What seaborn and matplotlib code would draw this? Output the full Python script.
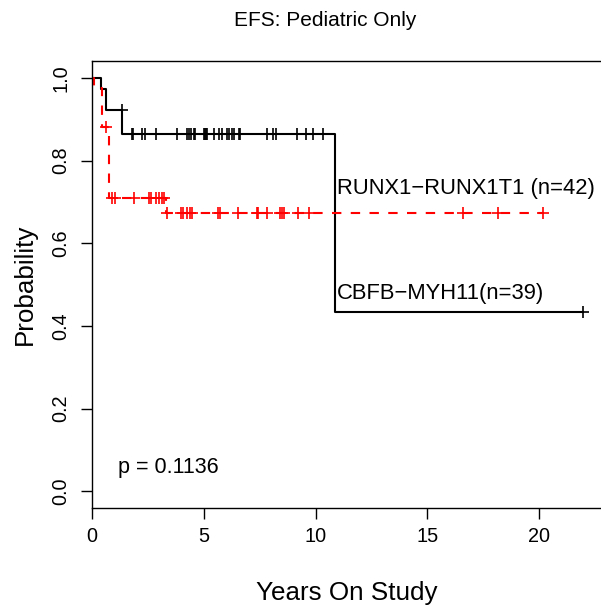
import numpy as np
import pandas as pd
import matplotlib
matplotlib.use('Agg')
import matplotlib.pyplot as plt
import seaborn as sns

# Curvas de supervivencia (anos, probabilidad)
cbfb_t = [0.0, 0.42, 0.64, 1.36, 10.87, 21.95]
cbfb_s = [1.0, 0.974, 0.921, 0.865, 0.433, 0.433]
cbfb_censor = [1.33, 1.77, 1.85, 2.25, 2.37, 2.86, 3.80, 4.27, 4.34, 4.43, 4.58, 4.61,
               5.01, 5.06, 5.10, 5.13, 5.47, 5.70, 5.83, 6.03, 6.13, 6.25, 6.35, 6.58,
               6.64, 7.81, 8.11, 8.22, 9.16, 9.56, 9.90, 10.32, 21.95]

runx_t = [0.0, 0.08, 0.45, 0.78, 3.31, 20.16]
runx_s = [1.0, 0.976, 0.881, 0.710, 0.673, 0.673]
runx_censor = [0.62, 0.88, 1.05, 1.89, 2.54, 2.65, 2.88, 3.00, 3.12, 3.22,
               3.36, 3.96, 4.09, 4.27, 4.38, 4.49, 5.65, 5.73, 6.55, 7.37, 7.44,
               7.82, 8.41, 8.49, 8.59, 9.23, 9.70, 16.62, 18.18, 20.16]

x_ticks = [0, 5, 10, 15, 20]
y_ticks = [0.0, 0.2, 0.4, 0.6, 0.8, 1.0]
p_text = 'p = 0.1136'


def nivel(t_step, s_step, t):
    # valor de la curva escalonada en el tiempo t
    idx = np.searchsorted(t_step, t, side='right') - 1
    return np.array(s_step)[idx]


sns.set_style('white')
plt.rcParams['font.family'] = ['Liberation Sans', 'DejaVu Sans']
plt.rcParams['text.color'] = 'black'

W, H = 601, 609
fig = plt.figure(figsize=(W / 100, H / 100), dpi=100)
left, right, top, bottom = 92, 603.4, 61.3, 507.7
ax = fig.add_axes([left / W, 1 - bottom / H, (right - left) / W, (bottom - top) / H])

df_cbfb = pd.DataFrame({'t': cbfb_t, 's': cbfb_s})
df_runx = pd.DataFrame({'t': runx_t, 's': runx_s})

sns.lineplot(data=df_cbfb, x='t', y='s', drawstyle='steps-post', estimator=None,
             sort=False, color='black', linewidth=1.5, ax=ax)
sns.lineplot(data=df_runx, x='t', y='s', drawstyle='steps-post', estimator=None,
             sort=False, color='red', linewidth=1.5, linestyle=(0, (4.5, 4.5)), ax=ax)

sns.scatterplot(x=cbfb_censor, y=nivel(cbfb_t, cbfb_s, cbfb_censor), marker='+',
                s=80, color='black', linewidth=1.2, ax=ax, zorder=3)
sns.scatterplot(x=runx_censor, y=nivel(runx_t, runx_s, runx_censor), marker='+',
                s=80, color='red', linewidth=1.2, ax=ax, zorder=3)

ax.set_xlim(0, 22.88)
ax.set_ylim(-0.04, 1.04)
ax.set_xticks(x_ticks)
ax.set_xticklabels([str(v) for v in x_ticks])
ax.set_yticks(y_ticks)
ax.set_yticklabels([f'{v:.1f}' for v in y_ticks], rotation=90, va='center')
ax.tick_params(direction='out', length=7.7, width=1, color='black', labelsize=14.3,
               bottom=True, left=True, labelcolor='black')
ax.tick_params(axis='x', pad=6)
ax.tick_params(axis='y', pad=8)
for sp in ax.spines.values():
    sp.set_visible(True)
    sp.set_color('black')
    sp.set_linewidth(1.0)
ax.set_xlabel('')
ax.set_ylabel('')

ax.text(10.96, 0.733, 'RUNX1\u2212RUNX1T1 (n=42)', ha='left', va='center', fontsize=15.8, color='black')
ax.text(10.96, 0.479, 'CBFB\u2212MYH11(n=39)', ha='left', va='center', fontsize=15.8, color='black')
ax.text(1.16, 0.058, p_text, ha='left', va='center', fontsize=15.5, color='black')

fig.text(325 / W, 1 - 26.5 / H, 'EFS: Pediatric Only', ha='center', va='baseline', fontsize=15, color='black')
fig.text(347 / W, 1 - 600 / H, 'Years On Study', ha='center', va='baseline', fontsize=18.7, color='black')
fig.text(25 / W, 1 - 284.5 / H, 'Probability', ha='center', va='center', rotation=90,
         fontsize=18.7, color='black')

fig.savefig('out.png', dpi=100)
